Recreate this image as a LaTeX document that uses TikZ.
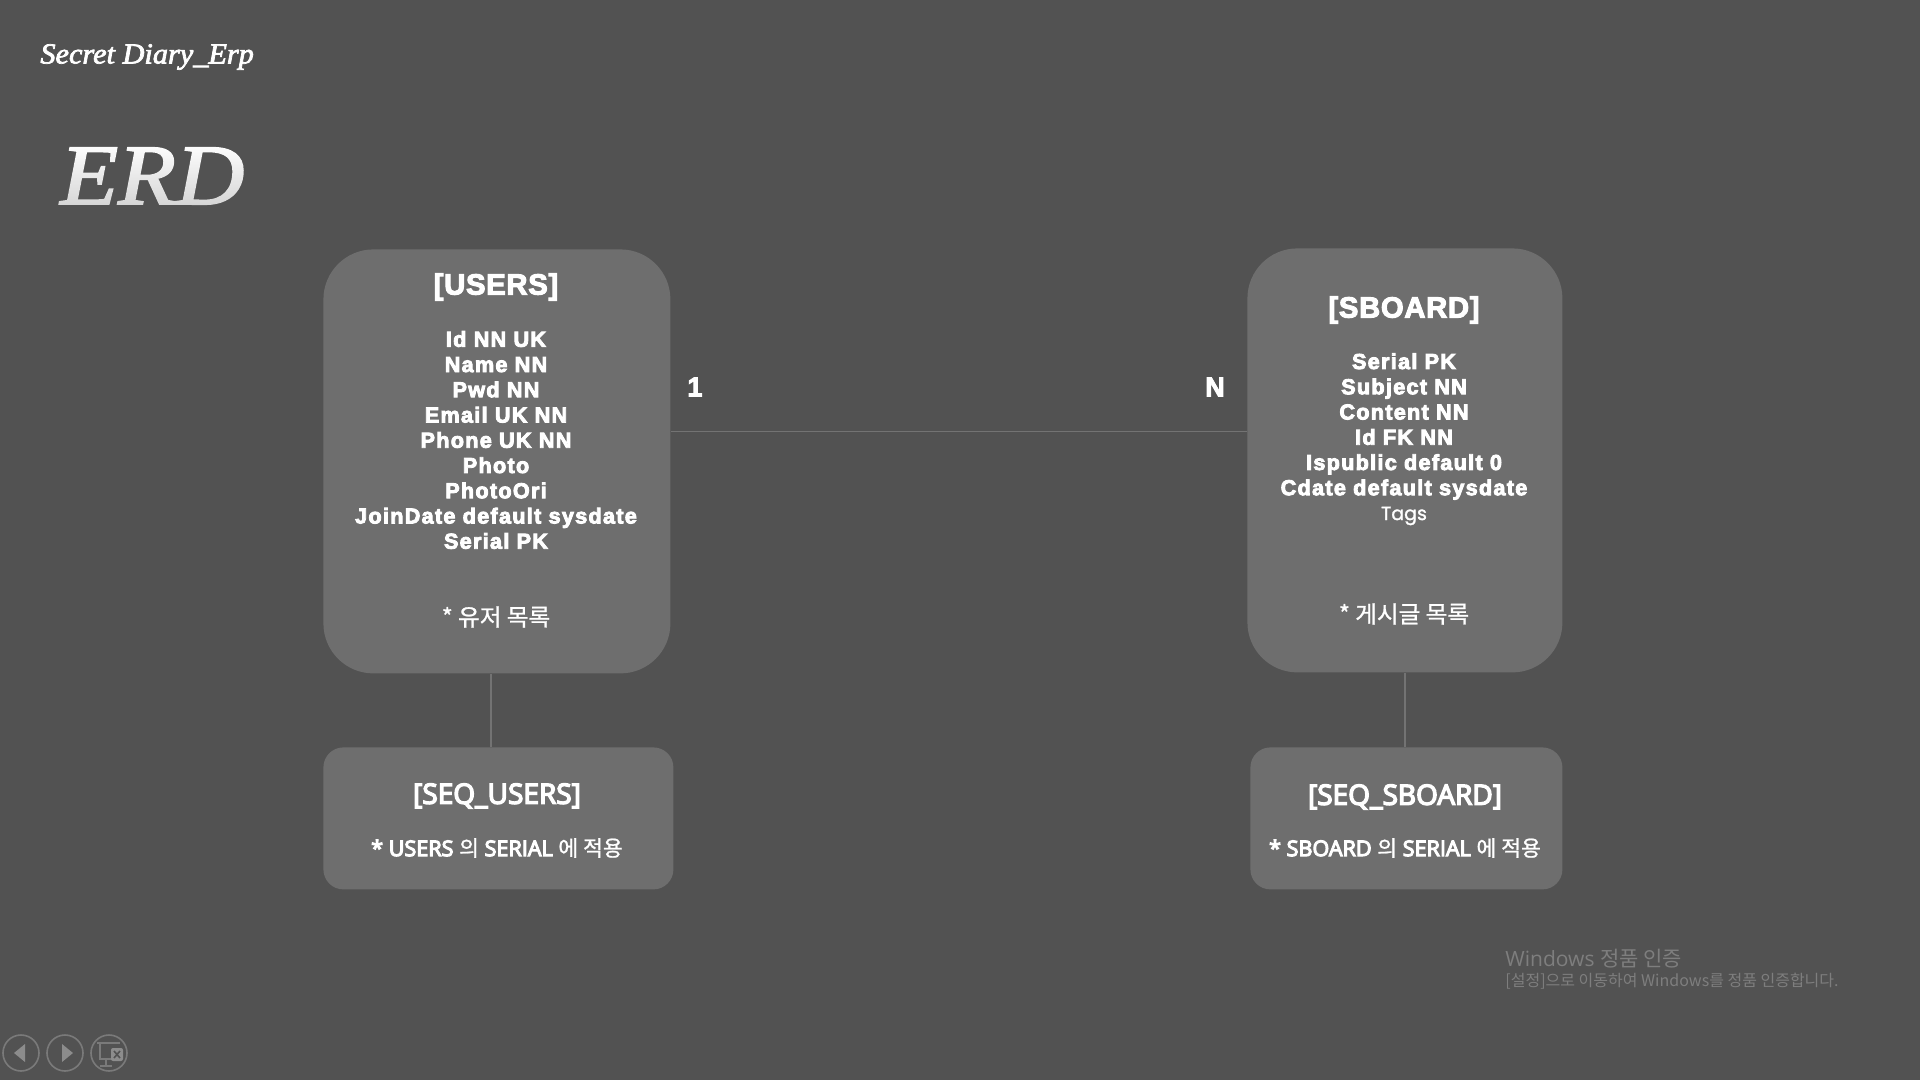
\documentclass[tikz,border=0pt]{standalone}
\usepackage{fontspec}
\usetikzlibrary{fadings}
\setmainfont{Liberation Sans}
\newfontfamily\serifit[FakeBold=2.5,FakeStretch=1.045]{Liberation Serif Italic}
\newfontfamily\serifbig[FakeBold=2,FakeStretch=1.1]{Liberation Serif Italic}
\newfontfamily\heavy[LetterSpace=6,FakeBold=4]{Liberation Sans Bold}
\newfontfamily\heavyhead[LetterSpace=2.5,FakeBold=3.5]{Liberation Sans Bold}
\newfontfamily\krfont{Noto Sans CJK KR}
\newfontfamily\krnote[FakeBold=1]{Noto Sans CJK KR}
\newfontfamily\seqfont[FakeBold=5]{Open Sans}
\newfontfamily\wmfont{Open Sans}
\newfontfamily\tagfont[FakeBold=1.5]{Poppins}
\definecolor{bgc}{HTML}{525252}
\definecolor{boxc}{HTML}{6E6E6E}
\definecolor{linec}{HTML}{737373}
\definecolor{wmc}{HTML}{7E7E7E}
\definecolor{btnc}{HTML}{7A7A7A}
\definecolor{btnf}{HTML}{8C8C8C}
\tikzfading[name=erdfade,top color=transparent!100,bottom color=transparent!76]
\tikzset{
  entity/.style={rectangle,fill=boxc,rounded corners=25pt,inner sep=0pt,anchor=north west},
  seqbox/.style={rectangle,fill=boxc,rounded corners=10pt,inner sep=0pt,anchor=north west},
  plaintext/.style={inner sep=0pt,text=white,align=center,anchor=center},
  listtext/.style={plaintext,font={\fontsize{10.8}{12.62}\selectfont\heavy}},
  headtext/.style={plaintext,font={\fontsize{14.6}{16}\selectfont\heavyhead}},
  notetext/.style={plaintext,font={\fontsize{11.8}{14}\selectfont\krnote}},
  seqhead/.style={plaintext,font={\fontsize{14}{17}\selectfont\seqfont}},
  seqnote/.style={plaintext,font={\fontsize{10.8}{13}\selectfont\seqfont}},
  card/.style={plaintext,font={\fontsize{13.5}{16}\selectfont\heavyhead}},
  rel/.style={draw=linec,line width=0.75pt},
  btn/.style={circle,draw=btnc,line width=0.8pt,minimum size=18pt,inner sep=0pt},
  wm/.style={inner sep=0pt,text=wmc,anchor=west}
}
\begin{document}
\begin{tikzpicture}[x=0.5pt,y=-0.5pt]
\useasboundingbox[fill=bgc] (0,0) rectangle (1920,1080);
% titles
\node[inner sep=0pt,anchor=west,text=white,font={\fontsize{14.5}{16}\selectfont\serifit}] (title) at (40,57) {Secret Diary\_Erp};
\node[inner sep=0pt,anchor=west,text=white,font={\fontsize{43}{50}\selectfont\serifbig}] (erd) at (60,176) {ERD};
\fill[bgc,path fading=erdfade] (50,144) rectangle (260,206);
% boxes
\node[entity,minimum width=173.5pt,minimum height=212pt] (users) at (323,249) {};
\node[entity,minimum width=157.5pt,minimum height=212pt] (sboard) at (1247,248) {};
\node[seqbox,minimum width=175pt,minimum height=71pt] (sequsers) at (323,747) {};
\node[seqbox,minimum width=156pt,minimum height=71pt] (seqsboard) at (1250,747) {};
% connectors
\coordinate (hline) at (0,431.5);
\coordinate (vleft) at (491,0);
\coordinate (vright) at (1405,0);
\draw[rel] (users.east |- hline) -- (sboard.west |- hline);
\draw[rel] (users.south -| vleft) -- (sequsers.north -| vleft);
\draw[rel] (sboard.south -| vright) -- (seqsboard.north -| vright);
% users text
\node[headtext] (usershead) at (496,287) {[USERS]};
\node[listtext] (userslist) at (496,440) {Id NN UK\\Name NN\\Pwd NN\\Email UK NN\\Phone UK NN\\Photo\\PhotoOri\\JoinDate default sysdate\\Serial PK};
\node[notetext] (usersnote) at (496,617) {* 유저 목록};
% sboard text
\node[headtext] (sboardhead) at (1404,310) {[SBOARD]};
\node[listtext] (sboardlist) at (1404,426.5) {Serial PK\\Subject NN\\Content NN\\Id FK NN\\Ispublic default 0\\Cdate default sysdate};
\node[plaintext,font={\fontsize{9.5}{12}\selectfont\tagfont}] (sboardtags) at (1404,516) {Tags};
\node[notetext] (sboardnote) at (1404,614) {* 게시글 목록};
% cardinalities
\node[card] (one) at (695,387) {1};
\node[card] (many) at (1215,387) {N};
% seq text
\node[seqhead] (sequhead) at (497,796) {[SEQ\_USERS]};
\node[seqnote] (sequnote) at (497,848) {* USERS {\krnote 의} SERIAL {\krnote 에 적용}};
\node[seqhead] (seqshead) at (1405,797) {[SEQ\_SBOARD]};
\node[seqnote] (seqsnote) at (1405,848) {* SBOARD {\krnote 의} SERIAL {\krnote 에 적용}};
% watermark
\node[wm,font={\fontsize{10.5}{12}\selectfont\wmfont}] (wm1) at (1505,958.5) {Windows {\krfont 정품 인증}};
\node[wm,font={\fontsize{8}{10}\selectfont\krfont}] (wm2) at (1505,981) {[설정]으로 이동하여 Windows를 정품 인증합니다.};
% slide-show buttons
\node[btn] (prev) at (21,1053) {};
\node[btn] (next) at (65,1053) {};
\node[btn] (menu) at (109,1053) {};
\fill[btnf] (14,1053) -- (25,1044) -- (25,1062) -- cycle;
\fill[btnf] (73,1053) -- (62,1044) -- (62,1062) -- cycle;
\draw[btnc,line width=0.7pt] (97,1043) -- (120,1043);
\draw[btnc,line width=0.7pt] (100,1043) -- (100,1059) -- (112,1059);
\draw[btnc,line width=0.7pt] (106,1059) -- (106,1065) (100,1066) -- (112,1066);
\fill[btnf,rounded corners=1pt] (111,1048) rectangle (123,1061);
\draw[bgc,line width=0.8pt] (114,1051) -- (120,1058) (120,1051) -- (114,1058);
\end{tikzpicture}
\end{document}
